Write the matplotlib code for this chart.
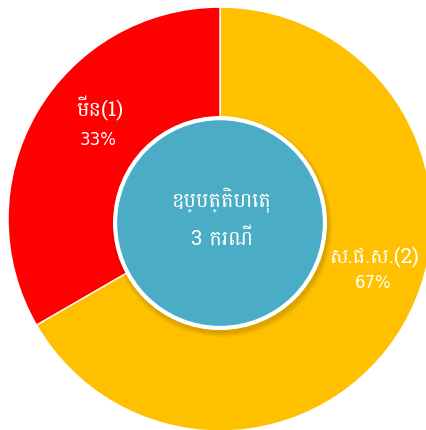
import matplotlib
matplotlib.use("Agg")
import matplotlib.pyplot as plt
from matplotlib import font_manager
from matplotlib.patches import Circle

# data
categories = ["ស.ផ.ស.(2)", "មីន(1)"]
values = [2, 1]
percents = ["67%", "33%"]
colors = ["#FFC000", "#FF0000"]
center_title = "ឧប្បត្តិហេតុ"
center_count = "3 ករណី"

installed = {f.name for f in font_manager.fontManager.ttflist}
families = [n for n in ["Battambang", "Kantumruy Pro", "Khmer"] if n in installed]
plt.rcParams["font.family"] = families[:1] + ["DejaVu Sans"]

fig = plt.figure(figsize=(4.26, 4.30), dpi=100)
ax = fig.add_axes([0, 0, 1, 1])

ax.pie(values, colors=colors, startangle=90, counterclock=False,
       radius=1.0, wedgeprops=dict(edgecolor="white", linewidth=1))

# pie() resets the limits, so set them afterwards
ax.set_xlim(-1.038, 0.972)
ax.set_ylim(-0.995, 1.033)
ax.set_aspect("equal")
ax.axis("off")

# shadow under the middle circle
for i in range(3):
    ax.add_patch(Circle((0.008, -0.035), 0.505 + i * 0.008, color="black",
                        alpha=0.05, lw=0, zorder=3))
ax.add_patch(Circle((0.0, -0.019), 0.495, facecolor="#4BACC6",
                    edgecolor="white", linewidth=3, zorder=4))

ax.text(0.731, -0.179, categories[0], ha="center", va="center",
        color="white", fontsize=15, zorder=5)
ax.text(0.725, -0.302, percents[0], ha="center", va="center",
        color="white", fontsize=12, family="DejaVu Sans", zorder=5)
ax.text(-0.566, 0.524, categories[1], ha="center", va="center",
        color="white", fontsize=15, zorder=5)
ax.text(-0.575, 0.373, percents[1], ha="center", va="center",
        color="white", fontsize=12, family="DejaVu Sans", zorder=5)

ax.text(0.01, 0.09, center_title, ha="center", va="center",
        color="white", fontsize=15, zorder=5)
ax.text(0.01, -0.09, center_count, ha="center", va="center",
        color="white", fontsize=15, zorder=5)

fig.savefig("out.png", dpi=100)
